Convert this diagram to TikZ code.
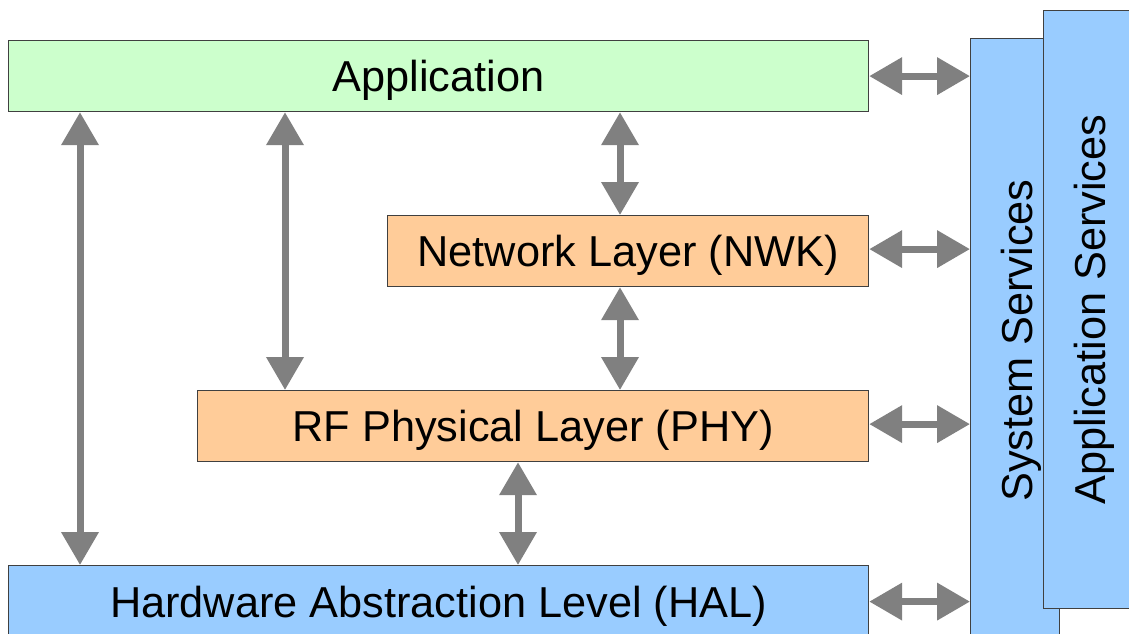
\documentclass[tikz,border=0pt]{standalone}
\usepackage{fontspec}
\setmainfont{Liberation Sans}
\usetikzlibrary{arrows.meta}
\definecolor{appgreen}{HTML}{CCFFCC}
\definecolor{layerorange}{HTML}{FFCC99}
\definecolor{halblue}{HTML}{99CCFF}
\definecolor{edgegray}{HTML}{404040}
\definecolor{arrowgray}{HTML}{808080}
\tikzset{
  layer/.style={draw=edgegray, line width=1.2pt, anchor=north west, inner sep=0pt,
    font=\fontsize{43.3}{48}\selectfont, text=black, text depth=0pt},
  svcbox/.style={draw=edgegray, line width=1.2pt, fill=halblue, anchor=north west, inner sep=0pt},
  svclabel/.style={rotate=90, inner sep=0pt, font=\fontsize{43.3}{48}\selectfont, text=black, text depth=0pt},
  dblarrow/.style={draw=arrowgray, line width=7pt,
    {Triangle[width=36pt,length=33pt]}-{Triangle[width=36pt,length=33pt]}},
}
\begin{document}
\begin{tikzpicture}[x=1pt,y=-1pt]
\useasboundingbox (0,0) rectangle (1129,634);
\fill[white] (0,0) rectangle (1129,634);

% protocol layers
\node[layer, fill=appgreen, minimum width=860pt, minimum height=71pt] (app) at (8,40) {Application};
\node[layer, fill=layerorange, minimum width=481pt, minimum height=71pt] (nwk) at (387,215) {Network Layer (NWK)};
\node[layer, fill=layerorange, minimum width=671pt, minimum height=71pt] (phy) at (197,390) {RF Physical Layer (PHY)};
\node[layer, fill=halblue, minimum width=860pt, minimum height=72pt] (hal) at (8,565) {Hardware Abstraction Level (HAL)};

% side service blocks
\node[svcbox, minimum width=89pt, minimum height=604pt] (sys) at (970,38) {};
\node[svclabel] (syslbl) at ([xshift=2pt]sys.center) {System Services};
\node[svcbox, minimum width=100pt, minimum height=598pt] (apsvc) at (1043,10) {};
\node[svclabel] (apsvclbl) at ([xshift=-4pt]apsvc.center) {Application Services};

% vertical links between layers
\draw[dblarrow] ([xshift=72pt]app.south west) -- ([xshift=72pt]hal.north west);
\draw[dblarrow] ([xshift=277pt]app.south west) -- ([xshift=88pt]phy.north west);
\draw[dblarrow] ([xshift=612pt]app.south west) -- ([xshift=233pt]nwk.north west);
\draw[dblarrow] ([xshift=233pt]nwk.south west) -- ([xshift=423pt]phy.north west);
\draw[dblarrow] ([xshift=321pt]phy.south west) -- ([xshift=510pt]hal.north west);

% links to system services
\draw[dblarrow] (app.east) -- (app.east -| sys.west);
\draw[dblarrow] ([yshift=2pt]nwk.east) -- ([yshift=2pt]nwk.east -| sys.west);
\draw[dblarrow] ([yshift=2pt]phy.east) -- ([yshift=2pt]phy.east -| sys.west);
\draw[dblarrow] (hal.east) -- (hal.east -| sys.west);
\end{tikzpicture}
\end{document}
